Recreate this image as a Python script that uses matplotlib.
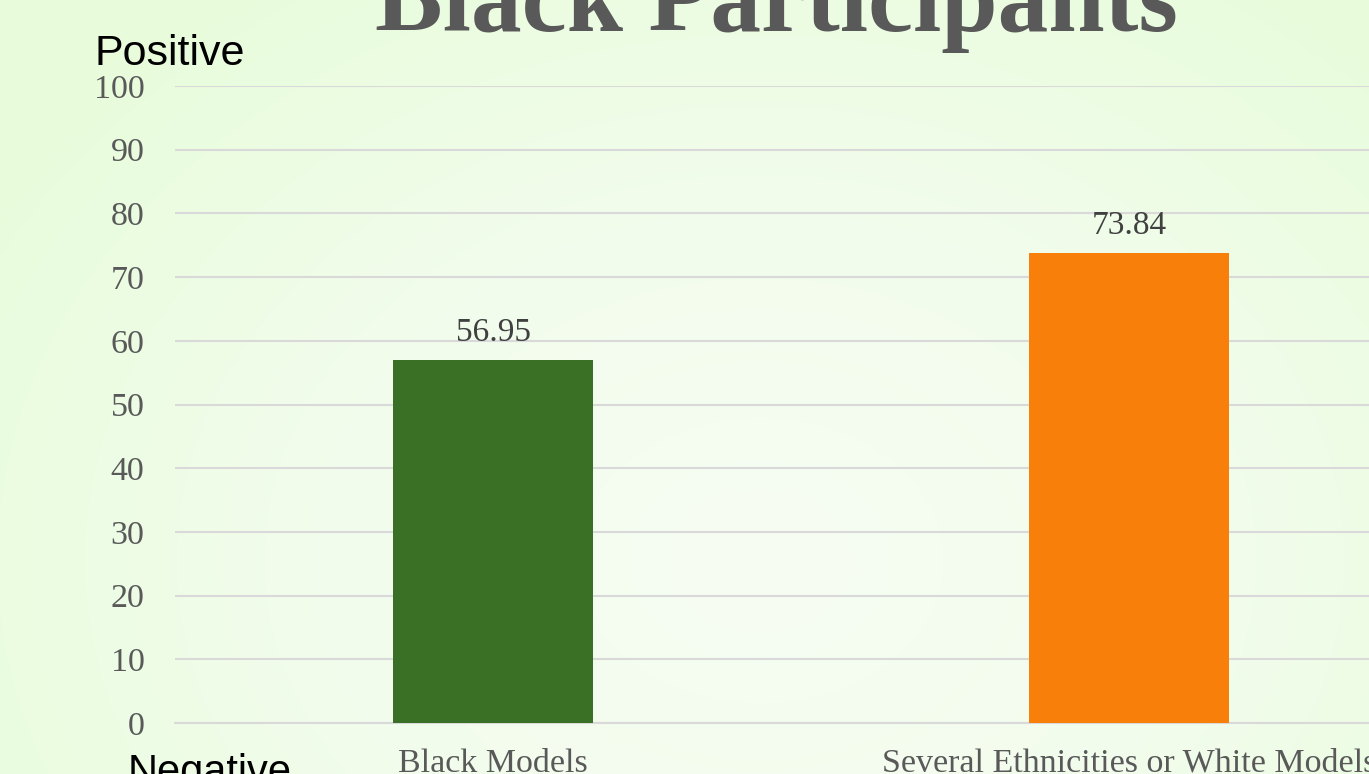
import numpy as np
import matplotlib.pyplot as plt
from matplotlib.colors import LinearSegmentedColormap

categories = ["Black Models", "Several Ethnicities or White Models"]
values = [56.95, 73.84]
colors = ["#3A7026", "#F8800A"]
yticks = list(range(0, 101, 10))

W, H = 1369, 774
fig = plt.figure(figsize=(W / 100, H / 100), dpi=100)

# background radial gradient
bg = fig.add_axes([0, 0, 1, 1], zorder=-10)
yy, xx = np.mgrid[0:H, 0:W]
r = np.sqrt(((xx - 760) / 900.0) ** 2 + ((yy - 560) / 700.0) ** 2)
r = np.clip(r, 0, 1)
cmap = LinearSegmentedColormap.from_list("bg", ["#F7FCF3", "#F2FDEC", "#E8FCDC"])
bg.imshow(r, cmap=cmap, aspect="auto", extent=[0, 1, 0, 1], vmin=0, vmax=1)
bg.axis("off")

ax = fig.add_axes([175 / W, (H - 723) / H, (1447 - 175) / W, (723 - 86) / H])
ax.patch.set_alpha(0)
x = np.arange(len(categories))
bars = ax.bar(x, values, width=0.315, color=colors, zorder=3)
ax.set_xlim(-0.5, 1.5)
ax.set_ylim(0, 100)
ax.set_yticks(yticks)
ax.grid(axis="y", color="#d9d9d9", lw=1.5, zorder=0)
for s in ["top", "right", "left"]:
    ax.spines[s].set_visible(False)
ax.spines["bottom"].set_color("#d9d9d9")
ax.spines["bottom"].set_linewidth(1.5)
ax.tick_params(axis="both", length=0, labelsize=24.5, labelcolor="#595959")
ax.tick_params(axis="y", pad=22)
ax.tick_params(axis="x", pad=18)
ax.set_xticks(x)
ax.set_xticklabels(categories, fontfamily="Liberation Serif")
for lab in ax.get_yticklabels():
    lab.set_fontfamily("Liberation Serif")

for xi, v in zip(x, values):
    ax.text(xi, v + 3, f"{v:.2f}", ha="center", va="baseline",
            fontsize=24, color="#404040", fontfamily="Liberation Serif")

fig.text(776 / W, 1 - 31 / H, "Black Participants", ha="center", va="baseline",
         fontsize=73, fontweight="bold", color="#595959", fontfamily="Liberation Serif")
fig.text(95 / W, 1 - 65 / H, "Positive", ha="left", va="baseline",
         fontsize=31, color="black", fontfamily="Liberation Sans")
fig.text(128 / W, 1 - 753 / H, "Negative", ha="left", va="top",
         fontsize=30, color="black", fontfamily="Liberation Sans")

fig.savefig("out.png", dpi=100)
